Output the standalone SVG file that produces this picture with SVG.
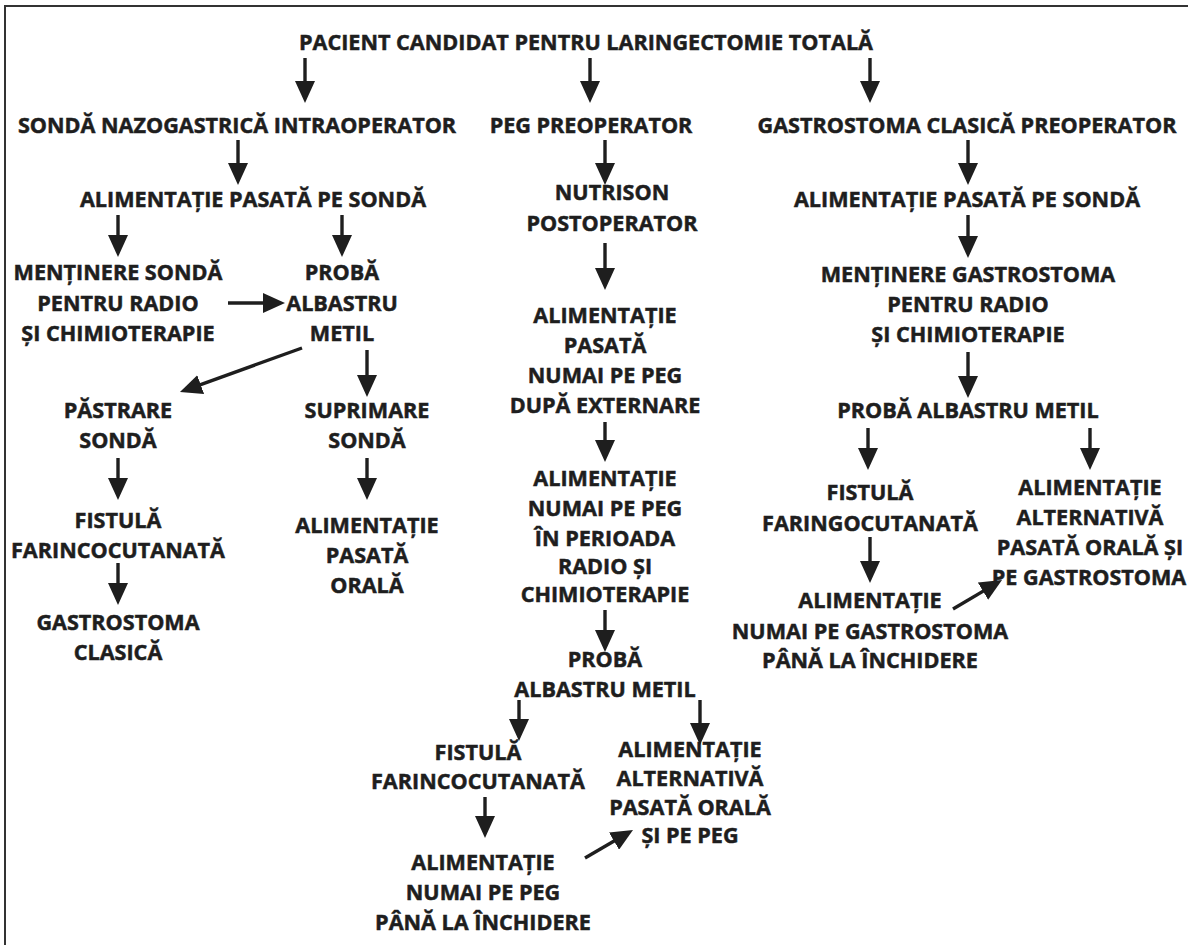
<svg xmlns="http://www.w3.org/2000/svg" width="1188" height="945" viewBox="0 0 1188 945">
<style>
text{font-family:"Open Sans","Liberation Sans",sans-serif;font-weight:bold;font-size:21.6px;fill:#1e1e1e;stroke:#1e1e1e;stroke-width:0.5;text-anchor:middle}
.c line{stroke:#1e1e1e;stroke-width:3.4;marker-end:url(#ah)}
</style>
<defs>
<marker id="ah" markerUnits="userSpaceOnUse" markerWidth="24" markerHeight="20" refX="14" refY="10" orient="auto"><path d="M0,0 L22,10 L0,20 z" fill="#1e1e1e"/></marker>
</defs>
<rect width="1188" height="945" fill="#fff"/>
<path d="M5,945 V6 H1188" fill="none" stroke="#333" stroke-width="2"/>
<g id="n-title"><text x="586" y="50">PACIENT CANDIDAT PENTRU LARINGECTOMIE TOTALĂ</text></g>
<g id="n-sng"><text x="237" y="133">SONDĂ NAZOGASTRICĂ INTRAOPERATOR</text></g>
<g id="n-peg"><text x="591" y="133">PEG PREOPERATOR</text></g>
<g id="n-gcp"><text x="967" y="133">GASTROSTOMA CLASICĂ PREOPERATOR</text></g>
<g id="n-aps1"><text x="253" y="207">ALIMENTAȚIE PASATĂ PE SONDĂ</text></g>
<g id="n-nutri"><text x="612" y="200">NUTRISON</text><text x="612" y="231">POSTOPERATOR</text></g>
<g id="n-aps2"><text x="967" y="207">ALIMENTAȚIE PASATĂ PE SONDĂ</text></g>
<g id="n-ms"><text x="118" y="280">MENȚINERE SONDĂ</text><text x="118" y="311">PENTRU RADIO</text><text x="118" y="341">ȘI CHIMIOTERAPIE</text></g>
<g id="n-pam1"><text x="342" y="280">PROBĂ</text><text x="342" y="311">ALBASTRU</text><text x="342" y="341">METIL</text></g>
<g id="n-ape"><text x="605" y="323">ALIMENTAȚIE</text><text x="605" y="353">PASATĂ</text><text x="605" y="383">NUMAI PE PEG</text><text x="605" y="413">DUPĂ EXTERNARE</text></g>
<g id="n-mg"><text x="968" y="282">MENȚINERE GASTROSTOMA</text><text x="968" y="312">PENTRU RADIO</text><text x="968" y="342">ȘI CHIMIOTERAPIE</text></g>
<g id="n-ps"><text x="118" y="418">PĂSTRARE</text><text x="118" y="448">SONDĂ</text></g>
<g id="n-ss"><text x="367" y="418">SUPRIMARE</text><text x="367" y="448">SONDĂ</text></g>
<g id="n-pam3"><text x="968" y="418">PROBĂ ALBASTRU METIL</text></g>
<g id="n-anp"><text x="605" y="486">ALIMENTAȚIE</text><text x="605" y="516">NUMAI PE PEG</text><text x="605" y="546">ÎN PERIOADA</text><text x="605" y="574">RADIO ȘI</text><text x="605" y="602">CHIMIOTERAPIE</text></g>
<g id="n-f1"><text x="118" y="528">FISTULĂ</text><text x="118" y="558">FARINCOCUTANATĂ</text></g>
<g id="n-apo"><text x="367" y="533">ALIMENTAȚIE</text><text x="367" y="563">PASATĂ</text><text x="367" y="593">ORALĂ</text></g>
<g id="n-gc"><text x="118" y="630">GASTROSTOMA</text><text x="118" y="660">CLASICĂ</text></g>
<g id="n-f3"><text x="870" y="500">FISTULĂ</text><text x="870" y="531">FARINGOCUTANATĂ</text></g>
<g id="n-aag"><text x="1090" y="495">ALIMENTAȚIE</text><text x="1090" y="525">ALTERNATIVĂ</text><text x="1090" y="555">PASATĂ ORALĂ ȘI</text><text x="1089" y="585">PE GASTROSTOMA</text></g>
<g id="n-ang"><text x="870" y="608">ALIMENTAȚIE</text><text x="870" y="639">NUMAI PE GASTROSTOMA</text><text x="870" y="668">PÂNĂ LA ÎNCHIDERE</text></g>
<g id="n-pam2"><text x="605" y="667">PROBĂ</text><text x="605" y="697">ALBASTRU METIL</text></g>
<g id="n-f2"><text x="478" y="760">FISTULĂ</text><text x="478" y="789">FARINCOCUTANATĂ</text></g>
<g id="n-aap"><text x="690" y="757">ALIMENTAȚIE</text><text x="690" y="786">ALTERNATIVĂ</text><text x="690" y="815">PASATĂ ORALĂ</text><text x="690" y="843">ȘI PE PEG</text></g>
<g id="n-anpp"><text x="483" y="870">ALIMENTAȚIE</text><text x="483" y="900">NUMAI PE PEG</text><text x="483" y="930">PÂNĂ LA ÎNCHIDERE</text></g>
<g id="connectors" class="c">
<line x1="305" y1="58" x2="305" y2="95"/>
<line x1="590" y1="58" x2="590" y2="95"/>
<line x1="870" y1="58" x2="870" y2="95"/>
<line x1="238" y1="140" x2="238" y2="177"/>
<line x1="605" y1="140" x2="605" y2="177"/>
<line x1="968" y1="140" x2="968" y2="177"/>
<line x1="118" y1="215" x2="118" y2="249"/>
<line x1="342" y1="215" x2="342" y2="249"/>
<line x1="605" y1="243" x2="605" y2="282"/>
<line x1="968" y1="215" x2="968" y2="250"/>
<line x1="228" y1="303" x2="277" y2="303"/>
<line x1="367" y1="350" x2="367" y2="389"/>
<line x1="302" y1="348" x2="187.5" y2="389.3"/>
<line x1="605" y1="422" x2="605" y2="454"/>
<line x1="968" y1="352" x2="968" y2="390"/>
<line x1="118" y1="458" x2="118" y2="492"/>
<line x1="367" y1="458" x2="367" y2="492"/>
<line x1="868" y1="428" x2="868" y2="462"/>
<line x1="1090" y1="428" x2="1090" y2="462"/>
<line x1="118" y1="563" x2="118" y2="597"/>
<line x1="870" y1="537" x2="870" y2="575"/>
<line x1="953" y1="609" x2="995.1" y2="584.1"/>
<line x1="605" y1="610" x2="605" y2="644"/>
<line x1="519" y1="700" x2="519" y2="733"/>
<line x1="700" y1="700" x2="700" y2="737"/>
<line x1="485" y1="797" x2="485" y2="830"/>
<line x1="585" y1="858" x2="626.1" y2="834"/>
</g>
</svg>
